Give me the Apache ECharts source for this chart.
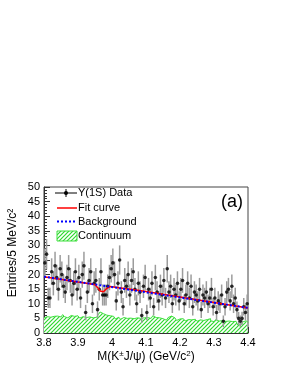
<!DOCTYPE html>
<html><head><meta charset="utf-8">
<script src="https://cdn.jsdelivr.net/npm/echarts@6/dist/echarts.min.js"></script>
<style>html,body{margin:0;padding:0;background:#fff}#c{width:283px;height:366px}</style>
</head><body><div id="c"></div>
<script>
// ---- data ----
const binStart = 3.8, binWidth = 0.005;
const dataCounts = [
 24,27,12,12,21,17,23,19,15,22,
 20,16,14,19,22,18,13,17,21,15,
 19,12,20,23,7,14,18,21,10,17,
 18,8,15,21,13,13,13,16,19,22,
 24,20,11,17,25,14,9,18,16,20,
 13,18,21,15,10,17,14,6,16,19,
 7,15,12,17,9,19,14,11,16,13,
 18,12,22,14,16,10,15,13,17,11,
 15,18,10,13,17,12,16,9,14,13,
 11,15,8,13,12,14,10,12,15,9,
 12,7,11,10,13,4,9,14,15,11,
 16,10,12,8,5,4,5,9,7,10
];
const continuum = [
 5.2,5.6,5.9,5.4,6.0,5.7,5.3,5.8,6.1,5.5,
 5.9,6.3,5.6,5.2,5.8,6.0,5.4,5.7,6.2,5.9,
 5.5,5.1,5.6,5.9,5.3,5.0,5.5,5.8,5.2,4.9,
 5.4,5.9,6.4,7.2,6.6,6.9,6.1,5.6,5.9,5.3,
 5.7,5.2,4.8,5.4,5.0,4.7,5.3,5.6,5.0,4.6,
 5.1,5.5,4.9,4.6,5.2,5.5,5.0,4.7,5.2,4.8,
 5.3,5.6,5.0,5.6,5.9,5.3,4.8,5.2,4.6,4.9,
 4.7,4.4,4.9,5.3,5.8,6.0,5.2,4.6,4.3,4.8,
 4.5,4.9,4.4,4.1,4.6,5.0,4.5,4.2,4.7,4.3,
 4.0,4.5,4.8,4.3,4.1,4.6,4.4,4.9,4.2,3.9,
 4.3,4.6,4.1,3.8,4.2,4.5,4.0,3.7,4.1,4.4,
 3.9,3.6,4.0,3.4,2.7,2.9,3.5,3.8,4.2,3.6
];
const fitX = [3.80,3.90,3.94,3.95,3.955,3.96,3.965,3.97,3.975,3.98,3.985,3.99,3.995,4.00,4.02,4.06,4.10,4.40];
const fitY = [19.3,17.5,16.8,16.5,16.0,15.2,14.4,14.0,14.1,14.7,15.3,15.7,15.9,15.8,15.5,14.9,14.2,8.6];
const bkgX = [3.80,4.40];
const bkgY = [19.3,8.6];
const xTicks = ['3.8','3.9','4','4.1','4.2','4.3','4.4'];
const yTicks = ['0','5','10','15','20','25','30','35','40','45','50'];
const legendLabels = ['\u03A5(1S) Data','Fit curve','Background','Continuum'];

// ---- build ----
const FONT = '"Liberation Sans", Arial, Helvetica, sans-serif';
const centers = dataCounts.map((v,i)=>+(binStart+binWidth*(i+0.5)).toFixed(4));
const pts = dataCounts.map((v,i)=>[centers[i], v]);
const errs = dataCounts.map((v,i)=>[centers[i], v, Math.sqrt(v)]);
const contData = continuum.map((v,i)=>[+(binStart+binWidth*i).toFixed(4), v]);
contData.push([4.4, continuum[continuum.length-1]]);
const fitData = fitX.map((x,i)=>[x, fitY[i]]);
const bkgData = bkgX.map((x,i)=>[x, bkgY[i]]);

function hatch(){
  const n = 4;
  const c = document.createElement('canvas'); c.width=n; c.height=n;
  const g = c.getContext('2d');
  g.fillStyle='#fff'; g.fillRect(0,0,n,n);
  g.strokeStyle='#2fd82f'; g.lineWidth=1.2;
  g.beginPath(); g.moveTo(-1,n+1); g.lineTo(n+1,-1); g.stroke();
  g.beginPath(); g.moveTo(-1,1); g.lineTo(1,-1); g.stroke();
  g.beginPath(); g.moveTo(n-1,n+1); g.lineTo(n+1,n-1); g.stroke();
  return c;
}
const pat = {image: hatch(), repeat: 'repeat'};

const chart = echarts.init(document.getElementById('c'), null, {renderer:'canvas'});
const axisLabelStyle = {fontFamily: FONT, fontSize: 11, color: '#000'};
chart.setOption({
  animation: false,
  grid: {left: 44, top: 187, width: 204, height: 146, show: true, borderColor: '#444', borderWidth: 1, backgroundColor: 'transparent'},
  xAxis: {
    type: 'value', min: 3.8, max: 4.4, interval: 0.1,
    axisLine: {show: true, onZero: false, lineStyle: {color: '#333'}},
    axisTick: {show: true, inside: true, length: 6, lineStyle: {color: '#333'}},
    minorTick: {show: true, splitNumber: 5, length: 3, lineStyle: {color: '#333'}},
    splitLine: {show: false},
    axisLabel: Object.assign({margin: 4, formatter: (v)=> xTicks[Math.round((v-3.8)/0.1)]}, axisLabelStyle)
  },
  yAxis: {
    type: 'value', min: 0, max: 50, interval: 5,
    axisLine: {show: true, lineStyle: {color: '#333'}},
    axisTick: {show: true, inside: true, length: 6, lineStyle: {color: '#333'}},
    minorTick: {show: true, splitNumber: 5, length: 3, lineStyle: {color: '#333'}},
    splitLine: {show: false},
    axisLabel: Object.assign({margin: 4, formatter: (v)=> yTicks[Math.round(v/5)]}, axisLabelStyle)
  },
  series: [
    {type:'line', data: contData, step:'end', symbol:'none', clip:true,
     lineStyle:{color:'#3ee03e', width:1}, areaStyle:{color: pat, opacity:1}, z:1},
    {type:'custom', data: errs, clip:true, z:2,
     renderItem: function(params, api){
       const x=api.value(0), y=api.value(1), e=api.value(2);
       const a=api.coord([x,y-e]), b=api.coord([x,y+e]);
       return {type:'line', shape:{x1:a[0],y1:a[1],x2:b[0],y2:b[1]}, style:{stroke:'#9c9c9c', lineWidth:1.5}};
     }},
    {type:'scatter', data: pts, symbol:'circle', symbolSize:3.6, itemStyle:{color:'#000'}, z:3},
    {type:'line', data: fitData, symbol:'none', lineStyle:{color:'#ff0000', width:1.5}, z:4},
    {type:'line', data: bkgData, symbol:'none', lineStyle:{color:'#0000ff', width:2, type:[2,2]}, z:5}
  ],
  graphic: [
    {type:'text', x: 13, y: 253, rotation: Math.PI/2,
     style:{text:'Entries/5 MeV/c\u00B2', fontFamily: FONT, fontSize: 12, fill:'#000', align:'center', verticalAlign:'middle'}},
    {type:'text', x: 146, y: 357,
     style:{text:'M(K{s|\u00B1}J/\u03C8) (GeV/c{s|2})', fontFamily: FONT, fontSize: 12, fill:'#000', align:'center', verticalAlign:'middle',
       rich:{s:{fontFamily: FONT, fontSize: 8, verticalAlign:'top', padding:[0,0,6,0]}}}},
    {type:'text', x: 232, y: 202, style:{text:'(a)', fontFamily: FONT, fontSize: 18, fill:'#000', align:'center', verticalAlign:'middle'}},
    {type:'line', shape:{x1:55,y1:193,x2:77,y2:193}, style:{stroke:'#000', lineWidth:1}},
    {type:'line', shape:{x1:66,y1:189,x2:66,y2:197}, style:{stroke:'#000', lineWidth:1}},
    {type:'circle', shape:{cx:66,cy:193,r:2}, style:{fill:'#000'}},
    {type:'text', x:78, y:193, style:{text:legendLabels[0], fontFamily: FONT, fontSize: 11, fill:'#000', verticalAlign:'middle'}},
    {type:'line', shape:{x1:57,y1:208,x2:77,y2:208}, style:{stroke:'#ff0000', lineWidth:1.5}},
    {type:'text', x:78, y:208, style:{text:legendLabels[1], fontFamily: FONT, fontSize: 11, fill:'#000', verticalAlign:'middle'}},
    {type:'line', shape:{x1:57,y1:221.5,x2:77,y2:221.5}, style:{stroke:'#0000ff', lineWidth:2, lineDash:[2,2]}},
    {type:'text', x:78, y:221.5, style:{text:legendLabels[2], fontFamily: FONT, fontSize: 11, fill:'#000', verticalAlign:'middle'}},
    {type:'rect', shape:{x:57,y:231,width:20,height:10}, style:{fill: pat, stroke:'#3ee03e', lineWidth:1}},
    {type:'text', x:78, y:236, style:{text:legendLabels[3], fontFamily: FONT, fontSize: 11, fill:'#000', verticalAlign:'middle'}}
  ]
});
</script>
</body></html>
